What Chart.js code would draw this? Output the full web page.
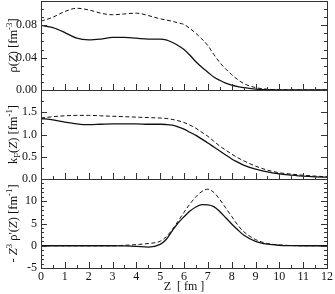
<!DOCTYPE html>
<html lang="en">
<head>
<meta charset="UTF-8">
<title>Density profiles</title>
<script src="https://cdn.jsdelivr.net/npm/chart.js"></script>
<style>
  body { margin: 0; background: #fff; }
  #wrap { position: relative; width: 335px; height: 294px; }
  canvas { position: absolute; left: 0; }
</style>
</head>
<body>
<div id="wrap">
  <canvas id="rho" width="335" height="94" style="top:0px"></canvas>
  <canvas id="kf" width="335" height="97" style="top:86px"></canvas>
  <canvas id="drho" width="335" height="119" style="top:175px"></canvas>
</div>
<script>
// Z grid [fm], shared by every curve (finer across the surface)
const zValues = [0, 0.5, 1, 1.5, 2, 2.5, 3, 3.5, 4, 4.5, 5, 5.25, 5.5, 5.75, 6, 6.25, 6.5, 6.75, 7, 7.25, 7.5, 7.75, 8, 8.25, 8.5, 9, 9.5, 10, 10.5, 11, 11.5, 12]

// top panel: rho(Z) [fm^-3]
const rhoSolid  = [0.080, 0.077, 0.071, 0.064, 0.062, 0.063, 0.065, 0.065, 0.064, 0.063, 0.063, 0.062, 0.059, 0.055, 0.050, 0.043, 0.035, 0.028, 0.022, 0.016, 0.012, 0.0085, 0.006, 0.0043, 0.003, 0.001, 0.0004, 0.0002, 0.0001, 0, 0, 0]
const rhoDashed = [0.085, 0.090, 0.097, 0.101, 0.099, 0.095, 0.093, 0.094, 0.095, 0.092, 0.088, 0.0865, 0.085, 0.083, 0.081, 0.076, 0.070, 0.063, 0.055, 0.044, 0.034, 0.026, 0.019, 0.013, 0.008, 0.003, 0.001, 0.0003, 0.0001, 0, 0, 0]

// middle panel: kF(Z) [fm^-1]
const kfSolid  = [1.36, 1.33, 1.28, 1.24, 1.22, 1.23, 1.24, 1.24, 1.24, 1.23, 1.23, 1.225, 1.21, 1.17, 1.12, 1.05, 0.98, 0.895, 0.81, 0.72, 0.63, 0.54, 0.45, 0.38, 0.31, 0.22, 0.16, 0.115, 0.088, 0.065, 0.05, 0.04]
const kfDashed = [1.37, 1.40, 1.42, 1.43, 1.43, 1.42, 1.41, 1.40, 1.39, 1.38, 1.37, 1.36, 1.34, 1.31, 1.27, 1.21, 1.14, 1.05, 0.96, 0.85, 0.74, 0.65, 0.56, 0.48, 0.41, 0.29, 0.20, 0.14, 0.11, 0.085, 0.065, 0.05]

// bottom panel: -Z^3 rho'(Z) [fm^-1]
const drhoSolid  = [0, 0, 0, 0, 0, 0, 0, -0.05, -0.15, -0.3, 0.3, 1.4, 3.3, 5.1, 6.5, 7.8, 8.7, 9.25, 9.2, 8.8, 7.7, 6.3, 4.9, 3.6, 2.4, 1.0, 0.35, 0.1, 0.03, 0, 0, 0]
const drhoDashed = [0, 0, 0, 0, 0, 0, 0, 0.1, 0.25, 0.5, 1.0, 2.0, 3.6, 5.5, 7.5, 9.4, 11.0, 12.2, 12.7, 12.0, 10.4, 8.5, 6.6, 4.7, 3.2, 1.4, 0.5, 0.2, 0.05, 0, 0, 0]

// tick labels
const xTicks = [0, 1, 2, 3, 4, 5, 6, 7, 8, 9, 10, 11, 12]
const rhoTicks = [0, 0.04, 0.08]
const kfTicks = [0, 0.5, 1.0, 1.5]
const drhoTicks = [-5, 0, 5, 10]

const FONT = '"Liberation Serif", "Times New Roman", serif'
const INK = '#111'

// draws the box, inward tick marks and a y title with sub/superscripts
const frameTicks = {
  id: 'frameTicks',
  afterDatasetsDraw(chart, args, opts) {
    const ctx = chart.ctx
    const a = chart.chartArea
    const x = chart.scales.x
    const y = chart.scales.y
    ctx.save()
    ctx.strokeStyle = '#333'
    ctx.lineWidth = 1
    ctx.strokeRect(a.left + 0.5, a.top + 0.5, a.right - a.left, a.bottom - a.top)
    ctx.beginPath()
    for (let k = 0; k <= 24; k++) {
      const v = k * 0.5
      const px = Math.round(x.getPixelForValue(v)) + 0.5
      const len = k % 2 === 0 ? 6 : 3
      ctx.moveTo(px, a.bottom)
      ctx.lineTo(px, a.bottom - len)
    }
    const n = Math.round((y.max - y.min) / opts.minor)
    const per = Math.round(opts.major / opts.minor)
    const off = Math.round((y.min % opts.major) / opts.minor)
    for (let k = 0; k <= n; k++) {
      const v = y.min + k * opts.minor
      const py = Math.round(y.getPixelForValue(v)) + 0.5
      const len = (k + off) % per === 0 ? 6 : 3
      ctx.moveTo(a.left, py); ctx.lineTo(a.left + len, py)
      ctx.moveTo(a.right, py); ctx.lineTo(a.right - len, py)
    }
    ctx.stroke()

    // y title
    const size = opts.titleSize
    const fontFor = p => `${p.it ? 'italic ' : ''}${(p.sup || p.sub) ? size * 0.7 : size}px ${FONT}`
    let w = 0
    opts.title.forEach(p => { ctx.font = fontFor(p); w += ctx.measureText(p.t).width })
    ctx.translate(13, (a.top + a.bottom) / 2)
    ctx.rotate(-Math.PI / 2)
    ctx.fillStyle = INK
    ctx.textBaseline = 'alphabetic'
    let tx = -w / 2
    const base = size * 0.33
    opts.title.forEach(p => {
      ctx.font = fontFor(p)
      const dy = p.sup ? -size * 0.42 : p.sub ? size * 0.25 : 0
      ctx.fillText(p.t, tx, base + dy)
      tx += ctx.measureText(p.t).width
    })
    ctx.restore()
  }
}

function makePanel(id, solid, dashed, yMin, yMax, yTicks, digits, minor, major, title, showX, pad) {
  return new Chart(document.getElementById(id), {
    type: 'line',
    data: {
      labels: zValues,
      datasets: [
        { data: zValues.map((z, i) => ({ x: z, y: solid[i] })), borderColor: INK, borderWidth: 1.3,
          pointRadius: 0, cubicInterpolationMode: 'monotone', fill: false },
        { data: zValues.map((z, i) => ({ x: z, y: dashed[i] })), borderColor: INK, borderWidth: 1,
          borderDash: [4, 2.5], pointRadius: 0, cubicInterpolationMode: 'monotone', fill: false }
      ]
    },
    options: {
      responsive: false,
      animation: false,
      devicePixelRatio: 1,
      layout: { padding: pad },
      plugins: {
        legend: { display: false },
        tooltip: { enabled: false },
        frameTicks: { minor: minor, major: major, title: title, titleSize: 12.5 }
      },
      scales: {
        x: {
          type: 'linear', min: 0, max: 12, display: showX,
          grid: { display: false, drawTicks: false }, border: { display: false },
          afterBuildTicks: s => { s.ticks = xTicks.map(v => ({ value: v })) },
          afterFit: s => {
            s.height = showX ? 26 : 0
            s.paddingLeft = 0; s.paddingRight = 0
          },
          ticks: { color: INK, padding: 2, maxRotation: 0, font: { family: FONT, size: 12 } },
          title: { display: true, text: 'Z  [ fm ]', color: INK, padding: { top: 0, bottom: 0 },
                   font: { family: FONT, size: 12 } }
        },
        y: {
          min: yMin, max: yMax,
          grid: { display: false, drawTicks: false }, border: { display: false },
          afterBuildTicks: s => { s.ticks = yTicks.map(v => ({ value: v })) },
          afterFit: s => {
            s.width = 41
            s.paddingTop = 0; s.paddingBottom = 0
          },
          ticks: { color: INK, padding: 4, font: { family: FONT, size: 12 },
                   callback: v => Number(v).toFixed(digits) }
        }
      }
    },
    plugins: [frameTicks]
  })
}

makePanel('rho', rhoSolid, rhoDashed, 0, 0.11, rhoTicks, 2, 0.01, 0.04,
  [{ t: 'ρ(' }, { t: 'Z', it: true }, { t: ') [fm' }, { t: '-3', sup: true }, { t: ']' }],
  false, { top: 1, bottom: 4, left: 0, right: 8 })

makePanel('kf', kfSolid, kfDashed, 0, 2, kfTicks, 1, 0.25, 0.5,
  [{ t: 'k' }, { t: 'F', sub: true }, { t: '(' }, { t: 'Z', it: true }, { t: ') [fm' }, { t: '-1', sup: true }, { t: ']' }],
  false, { top: 4, bottom: 4, left: 0, right: 8 })

makePanel('drho', drhoSolid, drhoDashed, -5, 15, drhoTicks, 0, 1, 5,
  [{ t: '- ' }, { t: 'Z', it: true }, { t: '3', sup: true }, { t: ' ρ\'(' }, { t: 'Z', it: true }, { t: ') [fm' }, { t: '-1', sup: true }, { t: ']' }],
  true, { top: 4, bottom: 0, left: 0, right: 8 })
</script>
</body>
</html>
